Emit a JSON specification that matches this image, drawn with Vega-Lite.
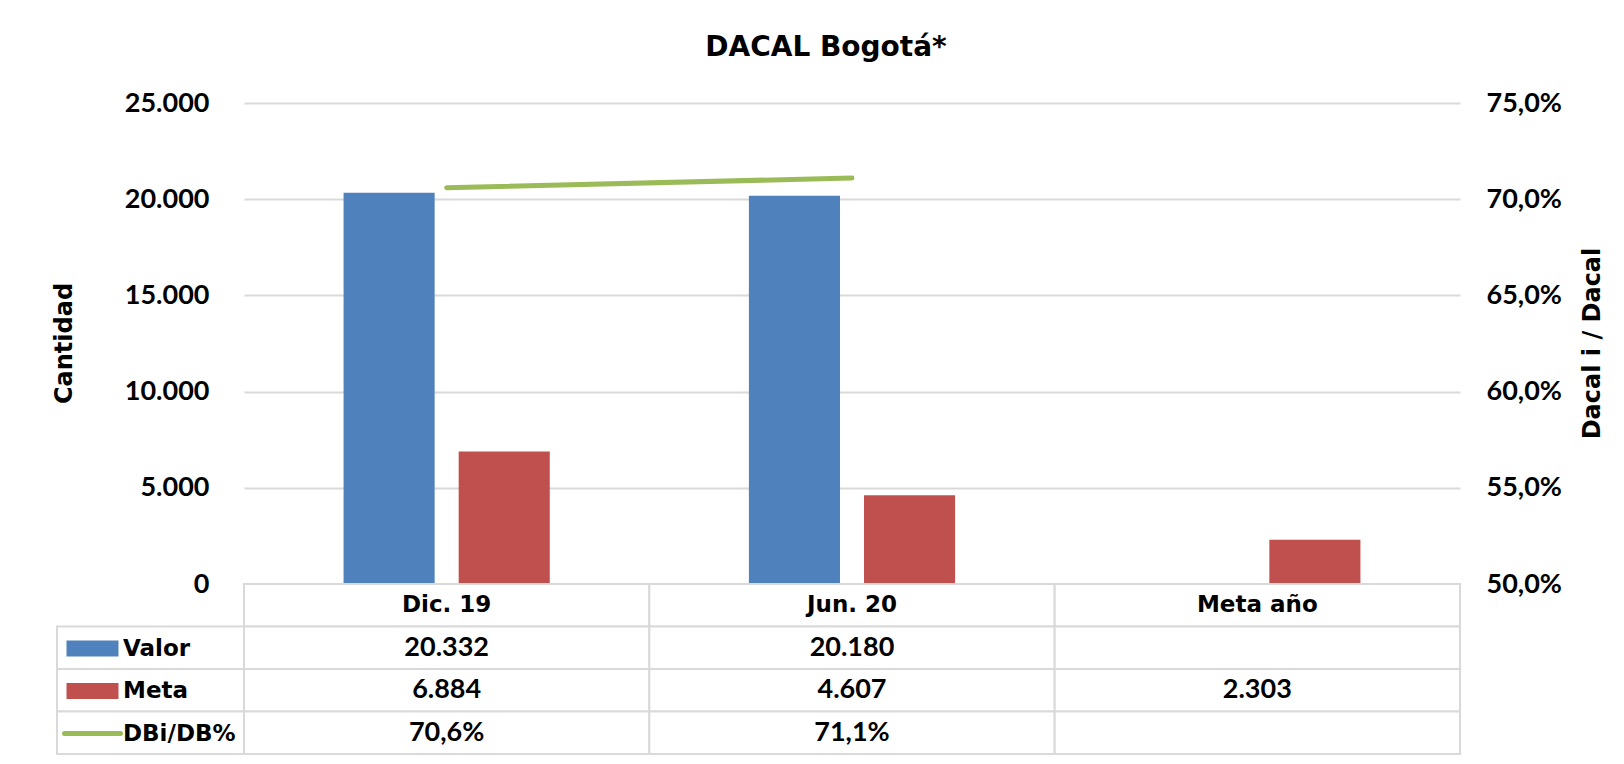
{
  "$schema": "https://vega.github.io/schema/vega-lite/v6.json",
  "background": "white",
  "padding": {"left": 52, "top": 34, "right": 5, "bottom": 5},
  "title": {"text": "DACAL Bogotá*", "font": "DejaVu Sans", "fontSize": 28, "fontWeight": "bold", "color": "#000000", "anchor": "middle", "frame": "group", "dx": 769, "offset": 27},
  "config": {
    "locale": {"number": {"decimal": ",", "thousands": ".", "grouping": [3], "currency": ["$", ""]}},
    "view": {"stroke": null}
  },
  "datasets": {
    "bars": [
      {"cat": "Dic. 19", "series": "Valor", "value": 20332},
      {"cat": "Dic. 19", "series": "Meta", "value": 6884},
      {"cat": "Jun. 20", "series": "Valor", "value": 20180},
      {"cat": "Jun. 20", "series": "Meta", "value": 4607},
      {"cat": "Meta año", "series": "Meta", "value": 2303}
    ],
    "ratio": [
      {"cat": "Dic. 19", "series": "DBi/DB%", "pct": 0.706},
      {"cat": "Jun. 20", "series": "DBi/DB%", "pct": 0.711}
    ],
    "cells": [
      {"row": "Cat", "cat": "Dic. 19"}, {"row": "Cat", "cat": "Jun. 20"}, {"row": "Cat", "cat": "Meta año"},
      {"row": "Valor", "cat": "Dic. 19"}, {"row": "Valor", "cat": "Jun. 20"}, {"row": "Valor", "cat": "Meta año"},
      {"row": "Meta", "cat": "Dic. 19"}, {"row": "Meta", "cat": "Jun. 20"}, {"row": "Meta", "cat": "Meta año"},
      {"row": "DBi/DB%", "cat": "Dic. 19"}, {"row": "DBi/DB%", "cat": "Jun. 20"}, {"row": "DBi/DB%", "cat": "Meta año"}
    ]
  },
  "columns": 2,
  "bounds": "flush",
  "spacing": 0,
  "resolve": {"scale": {"x": "independent", "y": "independent"}},
  "concat": [
    {
      "width": 187, "height": 481,
      "data": {"values": [{}]},
      "mark": {"type": "text", "text": ""},
      "encoding": {}
    },
    {
      "width": 1216, "height": 481,
      "layer": [
        {
          "data": {"name": "bars"},
          "mark": {"type": "bar"},
          "encoding": {
            "x": {"field": "cat", "type": "nominal", "scale": {"domain": ["Dic. 19", "Jun. 20", "Meta año"], "paddingInner": 0, "paddingOuter": 0}, "axis": null},
            "xOffset": {"field": "series", "type": "nominal", "scale": {"domain": ["Valor", "Meta"], "paddingInner": 0.2087, "paddingOuter": 0.865}},
            "y": {"field": "value", "type": "quantitative", "scale": {"domain": [0, 25000]},
              "axis": {"orient": "left", "values": [0, 5000, 10000, 15000, 20000, 25000], "format": ",.0f", "domain": false, "ticks": false, "grid": true, "gridColor": "#D9D9D9", "gridWidth": 2,
                "labelFont": "Lato", "labelFontWeight": "bold", "labelFontSize": 27, "labelColor": "#000000", "labelPadding": 35,
                "title": "Cantidad", "titleFont": "DejaVu Sans", "titleFontSize": 24, "titleFontWeight": "bold", "titleColor": "#000000", "titleAngle": 270, "titleX": -180, "titleY": 240, "titleAlign": "center", "titleBaseline": "middle"}},
            "color": {"field": "series", "type": "nominal", "scale": {"domain": ["Valor", "Meta", "DBi/DB%"], "range": ["#4F81BD", "#C0504D", "#9BBB59"]},
              "legend": {"orient": "none", "legendX": 24, "legendY": 534, "direction": "vertical", "title": null, "padding": 0,
                "labelFont": "DejaVu Sans", "labelFontSize": 23, "labelFontWeight": "bold", "labelColor": "#000000", "labelOffset": 19, "labelLimit": 300,
                "symbolSize": 400, "symbolOffset": 0, "rowPadding": 18.5,
                "encode": {"symbols": {"update": {
                  "shape": {"signal": "datum.value === 'DBi/DB%' ? 'M-2.8,0H2.8' : 'M-2.6,-0.8H2.6V0.8H-2.6Z'"},
                  "fill": {"signal": "datum.value === 'DBi/DB%' ? 'transparent' : scale('color', datum.value)"},
                  "stroke": {"signal": "datum.value === 'DBi/DB%' ? '#9BBB59' : 'transparent'"},
                  "strokeWidth": {"signal": "datum.value === 'DBi/DB%' ? 5 : 0"},
                  "strokeCap": {"value": "round"},
                  "opacity": {"value": 1}
                }}}}}
          }
        },
        {
          "data": {"name": "ratio"},
          "mark": {"type": "line", "strokeWidth": 5, "strokeCap": "round"},
          "encoding": {
            "x": {"field": "cat", "type": "nominal"},
            "y": {"field": "pct", "type": "quantitative", "scale": {"domain": [0.5, 0.75]},
              "axis": {"orient": "right", "values": [0.5, 0.55, 0.6, 0.65, 0.7, 0.75], "format": ".1%", "domain": false, "ticks": false, "grid": false,
                "labelFont": "Lato", "labelFontWeight": "bold", "labelFontSize": 27, "labelColor": "#000000", "labelPadding": 26,
                "title": "Dacal i / Dacal", "titleFont": "DejaVu Sans", "titleFontSize": 24, "titleFontWeight": "bold", "titleColor": "#000000", "titleAngle": 270, "titleX": 132, "titleY": 240, "titleAlign": "center", "titleBaseline": "middle"}},
            "color": {"field": "series", "type": "nominal"}
          }
        }
      ],
      "resolve": {"scale": {"y": "independent"}}
    },
    {
      "width": 187, "height": 170,
      "data": {"name": "cells"},
      "transform": [{"filter": "datum.cat === 'Dic. 19' && datum.row !== 'Cat'"}],
      "mark": {"type": "rect", "fill": "white", "stroke": "#D9D9D9", "strokeWidth": 2},
      "encoding": {
        "y": {"field": "row", "type": "nominal", "scale": {"domain": ["Cat", "Valor", "Meta", "DBi/DB%"], "paddingInner": 0, "paddingOuter": 0}, "axis": null}
      }
    },
    {
      "width": 1216, "height": 170,
      "layer": [
        {
          "data": {"name": "cells"},
          "mark": {"type": "rect", "fill": "white", "stroke": "#D9D9D9", "strokeWidth": 2},
          "encoding": {
            "x": {"field": "cat", "type": "nominal", "scale": {"domain": ["Dic. 19", "Jun. 20", "Meta año"], "paddingInner": 0, "paddingOuter": 0}, "axis": null},
            "y": {"field": "row", "type": "nominal", "scale": {"domain": ["Cat", "Valor", "Meta", "DBi/DB%"], "paddingInner": 0, "paddingOuter": 0}, "axis": null}
          }
        },
        {
          "data": {"name": "cells"},
          "transform": [{"filter": "datum.row === 'Cat'"}],
          "mark": {"type": "text", "font": "DejaVu Sans", "fontSize": 23, "fontWeight": "bold", "color": "#000000"},
          "encoding": {
            "x": {"field": "cat", "type": "nominal"},
            "y": {"field": "row", "type": "nominal"},
            "text": {"field": "cat", "type": "nominal"}
          }
        },
        {
          "data": {"name": "bars"},
          "mark": {"type": "text", "font": "Lato", "fontSize": 27, "fontWeight": "bold", "color": "#000000"},
          "encoding": {
            "x": {"field": "cat", "type": "nominal"},
            "y": {"field": "series", "type": "nominal"},
            "text": {"field": "value", "type": "quantitative", "format": ",.0f"}
          }
        },
        {
          "data": {"name": "ratio"},
          "mark": {"type": "text", "font": "Lato", "fontSize": 27, "fontWeight": "bold", "color": "#000000"},
          "encoding": {
            "x": {"field": "cat", "type": "nominal"},
            "y": {"field": "series", "type": "nominal"},
            "text": {"field": "pct", "type": "quantitative", "format": ".1%"}
          }
        }
      ]
    }
  ]
}
